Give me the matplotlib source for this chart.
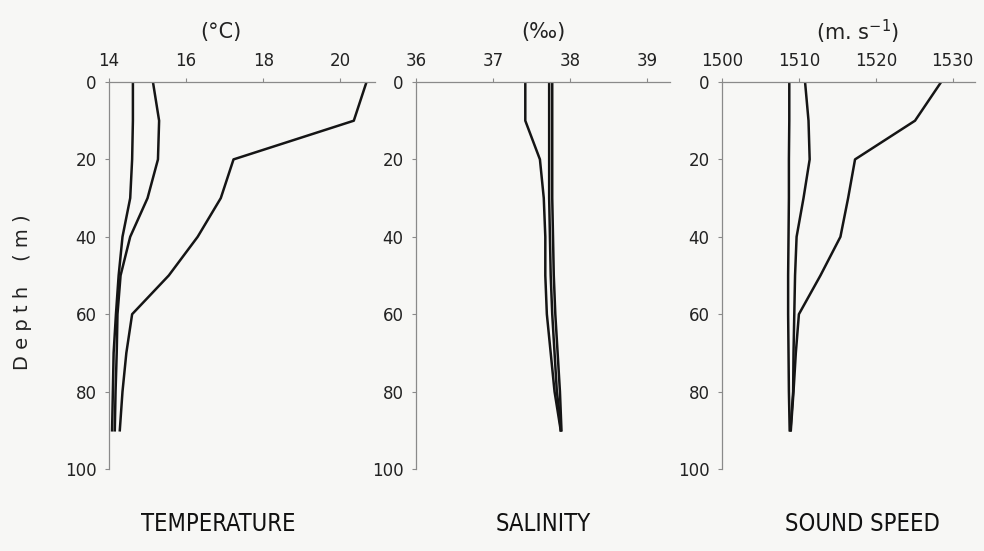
import matplotlib
matplotlib.use("Agg")
import matplotlib.pyplot as plt

# depth profiles
temp_depth = [0, 10, 20, 30, 40, 50, 60, 70, 80, 90]
temp_1 = [14.62, 14.62, 14.60, 14.55, 14.35, 14.25, 14.18, 14.12, 14.10, 14.08]
temp_2 = [15.14, 15.30, 15.27, 15.00, 14.55, 14.30, 14.22, 14.20, 14.17, 14.15]
temp_3 = [20.68, 20.35, 17.23, 16.90, 16.30, 15.55, 14.60, 14.45, 14.35, 14.28]

sal_depth = [0, 10, 20, 30, 40, 50, 60, 70, 80, 85, 90]
sal_1 = [37.42, 37.42, 37.61, 37.66, 37.68, 37.68, 37.70, 37.75, 37.80, 37.84, 37.88]
sal_2 = [37.73, 37.73, 37.73, 37.73, 37.74, 37.75, 37.77, 37.80, 37.83, 37.86, 37.88]
sal_3 = [37.77, 37.77, 37.77, 37.77, 37.78, 37.79, 37.81, 37.84, 37.87, 37.88, 37.89]

ss_depth = [0, 10, 20, 30, 40, 50, 60, 70, 80, 90]
ss_1 = [1508.75, 1508.75, 1508.7, 1508.7, 1508.65, 1508.6, 1508.6, 1508.65, 1508.7, 1508.8]
ss_2 = [1510.8, 1511.25, 1511.4, 1510.6, 1509.7, 1509.5, 1509.4, 1509.3, 1509.25, 1508.9]
ss_3 = [1528.5, 1525.1, 1517.3, 1516.4, 1515.4, 1512.8, 1510.0, 1509.6, 1509.3, 1508.95]

depth_ticks = [0, 20, 40, 60, 80, 100]
temp_ticks = [14, 16, 18, 20]
sal_ticks = [36, 37, 38, 39]
ss_ticks = [1500, 1510, 1520, 1530]

bg = "#f7f7f5"
ink = "#151515"
axis_col = "#8a8a8a"

fig = plt.figure(figsize=(9.84, 5.51), dpi=100, facecolor=bg)

W, H = 984.0, 551.0
top_px, bot_px = 82, 469


def make_ax(left_px, right_px):
    ax = fig.add_axes([left_px / W, 1 - bot_px / H,
                       (right_px - left_px) / W, (bot_px - top_px) / H])
    ax.set_facecolor(bg)
    ax.set_ylim(100, 0)
    ax.set_yticks(depth_ticks)
    ax.xaxis.tick_top()
    for s in ["right", "bottom"]:
        ax.spines[s].set_visible(False)
    for s in ["left", "top"]:
        ax.spines[s].set_color(axis_col)
        ax.spines[s].set_linewidth(0.9)
    ax.tick_params(axis="both", direction="out", length=3, width=0.8,
                   color=axis_col, labelsize=12, labelcolor="#222222", pad=6)
    return ax


ax1 = make_ax(109, 375)
ax1.set_xlim(14, 20.9)
ax1.set_xticks(temp_ticks)
for v in [temp_1, temp_2, temp_3]:
    ax1.plot(v, temp_depth, color=ink, lw=1.8)

ax2 = make_ax(416, 670)
ax2.set_xlim(36, 39.3)
ax2.set_xticks(sal_ticks)
for v in [sal_1, sal_2, sal_3]:
    ax2.plot(v, sal_depth, color=ink, lw=1.8)

ax3 = make_ax(722, 975)
ax3.set_xlim(1500, 1532.9)
ax3.set_xticks(ss_ticks)
for v in [ss_1, ss_2, ss_3]:
    ax3.plot(v, ss_depth, color=ink, lw=1.8)

# units above the axes
fig.text(221 / W, 1 - 32 / H, "(°C)", ha="center", va="center", fontsize=15, color="#222222")
fig.text(543 / W, 1 - 32 / H, "(‰)", ha="center", va="center", fontsize=15, color="#222222")
fig.text(858 / W, 1 - 32 / H, "(m. s$^{-1}$)", ha="center", va="center", fontsize=15, color="#222222")

# panel names below
title_kw = dict(ha="center", va="center", fontsize=17, family="DejaVu Sans",
                fontstretch="condensed", color="#111111")
fig.text(218 / W, 1 - 524 / H, "TEMPERATURE", **title_kw)
fig.text(543 / W, 1 - 524 / H, "SALINITY", **title_kw)
fig.text(862 / W, 1 - 524 / H, "SOUND SPEED", **title_kw)

fig.text(23 / W, 1 - 292 / H, "D e p t h    ( m )", rotation=90, ha="center",
         va="center", fontsize=14, color="#222222")

fig.savefig("out.png", dpi=100, facecolor=bg)
